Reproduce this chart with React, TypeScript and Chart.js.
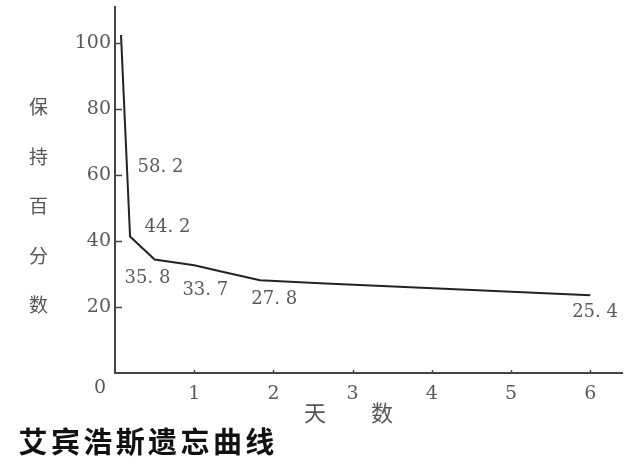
import React, { useEffect, useRef } from "react";
import { Chart, registerables } from "chart.js";

Chart.register(...registerables);

// Curve as drawn in the picture (days, retention %)
const curveDays = [0.076, 0.19, 0.5, 1.0, 1.41, 1.83, 2.59, 6.0];
const curveRetention = [102.5, 41.4, 34.4, 32.7, 30.4, 28.1, 27.2, 23.6];

// Value annotations and where they sit (data coordinates)
const annotationTexts = ["58. 2", "44. 2", "35. 8", "33. 7", "27. 8", "25. 4"];
const annotationDays = [0.574, 0.662, 0.41, 1.14, 2.01, 6.06];
const annotationRetention = [62.5, 44.1, 28.8, 25.1, 22.4, 18.5];

const xTickValues = [1, 2, 3, 4, 5, 6];
const yTickValues = [20, 40, 60, 80, 100];

const yTitleChars = ["保", "持", "百", "分", "数"];
const xTitleChars = ["天", "数"];
const mainTitle = "艾宾浩斯遗忘曲线";

const SERIF = "'DejaVu Serif', serif";
const CJK = "'Noto Sans CJK SC', sans-serif";

export default function App() {
  const ref = useRef<HTMLCanvasElement | null>(null);

  useEffect(() => {
    const canvas = ref.current;
    if (!canvas) return;

    const decorPlugin = {
      id: "decor",
      afterDraw(chart: any) {
        const ctx = chart.ctx as CanvasRenderingContext2D;
        const xs = chart.scales.x;
        const ys = chart.scales.y;
        const area = chart.chartArea;
        ctx.save();
        // inward tick marks
        ctx.strokeStyle = "#444";
        ctx.lineWidth = 1.5;
        yTickValues.forEach((v) => {
          const py = Math.round(ys.getPixelForValue(v)) + 0.5;
          ctx.beginPath();
          ctx.moveTo(area.left, py);
          ctx.lineTo(area.left + 7, py);
          ctx.stroke();
        });
        xTickValues.forEach((v) => {
          const px = Math.round(xs.getPixelForValue(v)) + 0.5;
          ctx.beginPath();
          ctx.moveTo(px, area.bottom);
          ctx.lineTo(px, area.bottom - 3);
          ctx.stroke();
        });

        // value annotations
        ctx.fillStyle = "#5a5a5a";
        ctx.font = `18px ${SERIF}`;
        ctx.textAlign = "center";
        ctx.textBaseline = "middle";
        annotationTexts.forEach((t, i) => {
          ctx.fillText(
            t,
            xs.getPixelForValue(annotationDays[i]),
            ys.getPixelForValue(annotationRetention[i])
          );
        });

        // origin label
        ctx.font = `19px ${SERIF}`;
        ctx.fillText("0", area.left - 15, area.bottom + 15);

        // y-axis title (vertical stacked)
        ctx.fillStyle = "#555";
        ctx.font = `19px ${CJK}`;
        yTitleChars.forEach((c, i) => {
          ctx.fillText(c, 38.5, 107 + i * 49.5);
        });

        // x-axis title
        ctx.font = `22px ${CJK}`;
        ctx.fillText(xTitleChars[0], 315, 413);
        ctx.fillText(xTitleChars[1], 382, 413);

        // main title
        ctx.fillStyle = "#111";
        ctx.font = `bold 29px ${CJK}`;
        Array.from(mainTitle).forEach((c, i) => {
          ctx.fillText(c, 33 + i * 32.4, 442);
        });
        ctx.restore();
      },
    };

    const chart = new Chart(canvas, {
      type: "line",
      data: {
        datasets: [
          {
            data: curveDays.map((d, i) => ({ x: d, y: curveRetention[i] })),
            borderColor: "#222",
            borderWidth: 2,
            pointRadius: 0,
            tension: 0,
            fill: false,
          },
        ],
      },
      options: {
        animation: false,
        responsive: false,
        devicePixelRatio: 1,
        layout: { padding: { left: 0, top: 7, right: 18, bottom: 0 } },
        plugins: {
          legend: { display: false },
          tooltip: { enabled: false },
          title: { display: false },
        },
        scales: {
          x: {
            type: "linear",
            min: 0,
            max: 6.4,
            afterFit: (s: any) => {
              s.height = 91;
              s.paddingLeft = 0;
              s.paddingRight = 0;
            },
            afterBuildTicks: (s: any) => {
              s.ticks = xTickValues.map((v) => ({ value: v }));
            },
            grid: { display: true, drawOnChartArea: false, drawTicks: false },
            border: { display: true, color: "#444", width: 2 },
            ticks: {
              color: "#5a5a5a",
              font: { family: SERIF, size: 19 },
              padding: 10,
              maxRotation: 0,
              autoSkip: false,
            },
          },
          y: {
            type: "linear",
            min: 0,
            max: 111,
            afterFit: (s: any) => {
              s.width = 115;
              s.paddingTop = 0;
              s.paddingBottom = 0;
            },
            afterBuildTicks: (s: any) => {
              s.ticks = yTickValues.map((v) => ({ value: v }));
            },
            grid: { display: true, drawOnChartArea: false, drawTicks: false },
            border: { display: true, color: "#444", width: 2 },
            ticks: {
              color: "#5a5a5a",
              font: { family: SERIF, size: 19 },
              padding: 4,
              autoSkip: false,
            },
          },
        },
      },
      plugins: [decorPlugin],
    });

    return () => chart.destroy();
  }, []);

  return (
    <div style={{ position: "absolute", left: 0, top: 0, width: 640, height: 464, background: "#fff" }}>
      <canvas ref={ref} width={640} height={464} style={{ display: "block" }} />
    </div>
  );
}
